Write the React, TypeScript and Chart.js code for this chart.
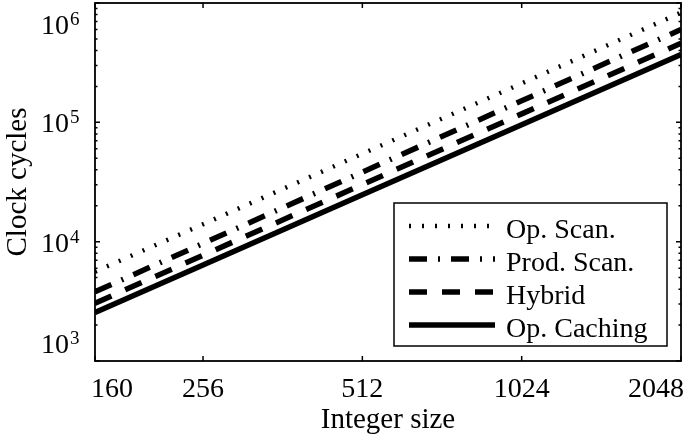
import React, { useEffect, useRef } from "react";
import { Chart, registerables } from "chart.js";

Chart.register(...registerables);

const sizes = [160, 256, 512, 1024, 2048];
const opScan = [5600, 14000, 54500, 212000, 830000];
const prodScan = [3800, 9660, 38300, 151600, 600000];
const hybrid = [3050, 7690, 30100, 117700, 460000];
const opCaching = [2550, 6380, 24700, 95500, 370000];

const seriesNames = ["Op. Scan.", "Prod. Scan.", "Hybrid", "Op. Caching"];
const xTickValues = [160, 256, 512, 1024, 2048];
const yTickExponents = [3, 4, 5, 6];
const xTitle = "Integer size";
const yTitle = "Clock cycles";

const SERIF = '"Liberation Serif", "Times New Roman", serif';

const styles = [
  { dash: [2, 11], width: 4.5 },
  { dash: [18, 11, 2, 11], width: 5.5 },
  { dash: [18, 15], width: 5.5 },
  { dash: [], width: 5.5 },
];

const framePlugin = {
  id: "frame",
  afterDatasetsDraw(chart: any) {
    const ctx = chart.ctx as CanvasRenderingContext2D;
    const { left, right, top, bottom } = chart.chartArea;
    const xs = chart.scales.x;
    const ys = chart.scales.y;
    ctx.save();
    ctx.strokeStyle = "#000";
    ctx.fillStyle = "#000";
    ctx.setLineDash([]);
    ctx.lineCap = "butt";

    // box
    ctx.lineWidth = 1.8;
    ctx.strokeRect(left, top, right - left, bottom - top);

    // y ticks
    ctx.lineWidth = 1.5;
    const yMax = ys.max;
    for (let k = 3; k <= 6; k++) {
      for (let m = 1; m <= 9; m++) {
        const v = m * Math.pow(10, k);
        if (v > yMax * 1.0001 || v < ys.min) continue;
        const py = ys.getPixelForValue(v);
        const len = m === 1 ? 5 : 2.5;
        ctx.beginPath();
        ctx.moveTo(left, py);
        ctx.lineTo(left + len, py);
        ctx.moveTo(right, py);
        ctx.lineTo(right - len, py);
        ctx.stroke();
      }
    }
    // x ticks
    xTickValues.forEach((v) => {
      const px = xs.getPixelForValue(v);
      ctx.beginPath();
      ctx.moveTo(px, bottom);
      ctx.lineTo(px, bottom - 5);
      ctx.moveTo(px, top);
      ctx.lineTo(px, top + 5);
      ctx.stroke();
    });

    // y labels
    yTickExponents.forEach((e) => {
      const py = ys.getPixelForValue(Math.pow(10, e));
      let cy = py;
      cy = Math.max(cy, top + 21);
      cy = Math.min(cy, bottom - 18);
      ctx.font = `28px ${SERIF}`;
      ctx.textAlign = "right";
      ctx.textBaseline = "alphabetic";
      ctx.fillText("10", 69, cy + 10);
      ctx.font = `19px ${SERIF}`;
      ctx.textAlign = "left";
      ctx.fillText(String(e), 70, cy + 1);
    });

    // x labels
    ctx.font = `28px ${SERIF}`;
    ctx.textBaseline = "alphabetic";
    ctx.textAlign = "left";
    xTickValues.forEach((v) => {
      const px = xs.getPixelForValue(v);
      const label = String(v);
      const w = ctx.measureText(label).width;
      let lx = px - w / 2;
      lx = Math.max(lx, 91);
      lx = Math.min(lx, 684 - w);
      ctx.fillText(label, lx, bottom + 36);
    });

    // axis titles
    ctx.font = `29px ${SERIF}`;
    ctx.textAlign = "center";
    ctx.fillText(xTitle, (left + right) / 2, bottom + 67);
    ctx.save();
    ctx.translate(26, (top + bottom) / 2);
    ctx.rotate(-Math.PI / 2);
    ctx.fillText(yTitle, 0, 0);
    ctx.restore();

    // legend
    const bx = 394, by = 203, bw = 273, bh = 143;
    ctx.fillStyle = "#fff";
    ctx.fillRect(bx, by, bw, bh);
    ctx.lineWidth = 1.5;
    ctx.strokeStyle = "#000";
    ctx.strokeRect(bx, by, bw, bh);
    ctx.fillStyle = "#000";
    ctx.font = `28px ${SERIF}`;
    ctx.textAlign = "left";
    const baselines = [238, 271, 304, 337];
    chart.data.datasets.forEach((ds: any, i: number) => {
      const b = baselines[i];
      const ly = b - 12;
      ctx.save();
      ctx.lineWidth = ds.borderWidth;
      ctx.setLineDash(ds.borderDash || []);
      ctx.lineCap = "butt";
      ctx.beginPath();
      ctx.moveTo(409, ly);
      ctx.lineTo(495, ly);
      ctx.stroke();
      ctx.restore();
      ctx.fillText(ds.label, 506, b);
    });
    ctx.restore();
  },
};

export default function App() {
  const ref = useRef<HTMLCanvasElement | null>(null);
  useEffect(() => {
    if (!ref.current) return;
    const all = [opScan, prodScan, hybrid, opCaching];
    const chart = new Chart(ref.current, {
      type: "line",
      data: {
        datasets: all.map((vals, i) => ({
          label: seriesNames[i],
          data: sizes.map((s, j) => ({ x: s, y: vals[j] })),
          borderColor: "#000",
          backgroundColor: "#000",
          borderWidth: styles[i].width,
          borderDash: styles[i].dash,
          borderCapStyle: "butt",
          pointRadius: 0,
          tension: 0,
          fill: false,
        })),
      },
      options: {
        responsive: false,
        animation: false,
        events: [],
        layout: { padding: { left: 95, right: 4, top: 3, bottom: 79 } },
        plugins: {
          legend: { display: false },
          tooltip: { enabled: false },
          title: { display: false },
        },
        scales: {
          x: { type: "logarithmic", min: 160, max: 2048, display: false },
          y: { type: "logarithmic", min: 1000, max: 1000000, display: false },
        },
      },
      plugins: [framePlugin],
    });
    return () => chart.destroy();
  }, []);
  return (
    <div style={{ position: "fixed", left: 0, top: 0, width: 685, height: 440, background: "#fff" }}>
      <canvas ref={ref} width={685} height={440} style={{ width: 685, height: 440, display: "block" }} />
    </div>
  );
}
